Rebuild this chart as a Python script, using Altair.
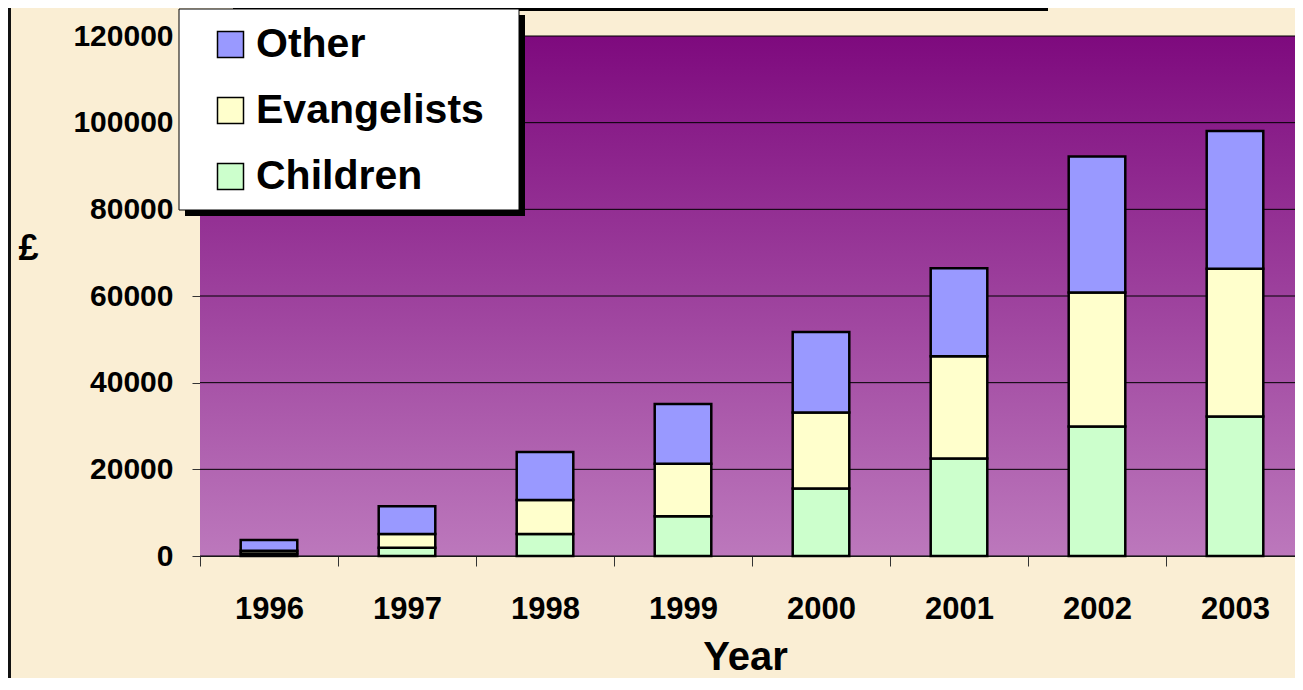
import altair as alt
import pandas as pd

# ---- data ----
years = ["1996", "1997", "1998", "1999", "2000", "2001", "2002", "2003"]
children = [600, 1900, 5100, 9200, 15600, 22500, 29900, 32200]
evangelists = [600, 3200, 7800, 12100, 17500, 23600, 30900, 34100]
other = [2500, 6400, 11100, 13800, 18600, 20300, 31400, 31800]

series_names = ["Other", "Evangelists", "Children"]
series_colors = ["#9999FF", "#FFFFCC", "#CCFFCC"]
y_ticks = [0, 20000, 40000, 60000, 80000, 100000, 120000]

rows = []
for i, yr in enumerate(years):
    rows.append({"Year": yr, "Series": "Children", "Value": children[i], "ord": 0})
    rows.append({"Year": yr, "Series": "Evangelists", "Value": evangelists[i], "ord": 1})
    rows.append({"Year": yr, "Series": "Other", "Value": other[i], "ord": 2})
df = pd.DataFrame(rows)

W, H = 1095, 520
STEP = 138
FONT = "Liberation Sans"
one = pd.DataFrame({"k": [0]})

yscale = alt.Scale(domain=[0, 120000], nice=False)
y_axis = alt.Axis(
    title="£", values=y_ticks, format="d", grid=False, tickSize=8, tickColor="#333333",
    domainColor="#555555", labelPadding=19, labelFontSize=30, labelFont=FONT,
    labelFontWeight="bold", labelColor="black",
    titleAngle=0, titleX=-172, titleY=212, titleAlign="center",
    titleBaseline="middle", titleFontSize=36, titleFont=FONT,
    titleFontWeight="bold", titleColor="black",
)

# plot-area gradient background
bg = alt.Chart(one).mark_rect(
    fill=alt.Gradient(
        gradient="linear",
        stops=[alt.GradientStop(color="#7E0A7E", offset=0),
               alt.GradientStop(color="#BC78BC", offset=1)],
        x1=0, x2=0, y1=0, y2=1,
    )
).encode(x=alt.value(0), x2=alt.value(W), y=alt.value(0), y2=alt.value(H))

# gridlines behind bars
grid = alt.Chart(pd.DataFrame({"v": y_ticks})).mark_rule(color="black", strokeWidth=1).encode(
    y=alt.Y("v:Q", scale=yscale, axis=y_axis),
    x=alt.value(0), x2=alt.value(W),
)

# decorations: left border, cut-off title box shadow, legend box + shadow
left_border = alt.Chart(one).mark_rect(color="#111111").encode(
    x=alt.value(-192), x2=alt.value(-189), y=alt.value(-28), y2=alt.value(642))
title_box = alt.Chart(one).mark_rect(color="black").encode(
    x=alt.value(33), x2=alt.value(848), y=alt.value(-28), y2=alt.value(-25))
leg_shadow = alt.Chart(one).mark_rect(color="black").encode(
    x=alt.value(-15), x2=alt.value(325), y=alt.value(-21), y2=alt.value(180))
leg_box = alt.Chart(one).mark_rect(color="white", stroke="black", strokeWidth=1).encode(
    x=alt.value(-21), x2=alt.value(319), y=alt.value(-27), y2=alt.value(174))

bars = alt.Chart(df).mark_bar(stroke="black", strokeWidth=2.5).encode(
    x=alt.X(
        "Year:N",
        sort=years,
        scale=alt.Scale(range=[0, STEP * 8], paddingInner=0.59, paddingOuter=0.295),
        axis=alt.Axis(
            title="Year", labelAngle=0, tickOffset=-STEP / 2, labelOffset=STEP / 2,
            tickSize=10, tickColor="#333333", domainColor="#333333", labelPadding=28,
            labelFontSize=31, labelFont=FONT, labelFontWeight="bold", labelColor="black",
            titleFontSize=40, titleFont=FONT, titleFontWeight="bold", titleColor="black",
            titleX=545, titleY=113, titleBaseline="alphabetic", titleAlign="center",
        ),
    ),
    y=alt.Y("Value:Q", stack="zero", scale=yscale, axis=y_axis),
    color=alt.Color(
        "Series:N",
        scale=alt.Scale(domain=series_names, range=series_colors),
        legend=alt.Legend(
            title=None, orient="none", legendX=10, legendY=-12, padding=0,
            symbolType="square", symbolSize=676, symbolStrokeColor="black",
            symbolStrokeWidth=1.5, symbolOpacity=1, labelFontSize=41, labelFont=FONT,
            labelFontWeight="bold", labelColor="black", labelOffset=5, rowPadding=24,
            labelLimit=400,
        ),
    ),
    order=alt.Order("ord:Q"),
)

chart = alt.layer(left_border, title_box, bg, grid, leg_shadow, leg_box, bars).properties(
    width=W, height=H,
    autosize=alt.AutoSizeParams(type="none"),
    padding={"left": 192, "top": 28, "right": 0, "bottom": 122},
).configure(background="#FAEED4").configure_view(strokeWidth=0)

chart.save("out.html", embed_options={"renderer": "svg", "actions": False})
